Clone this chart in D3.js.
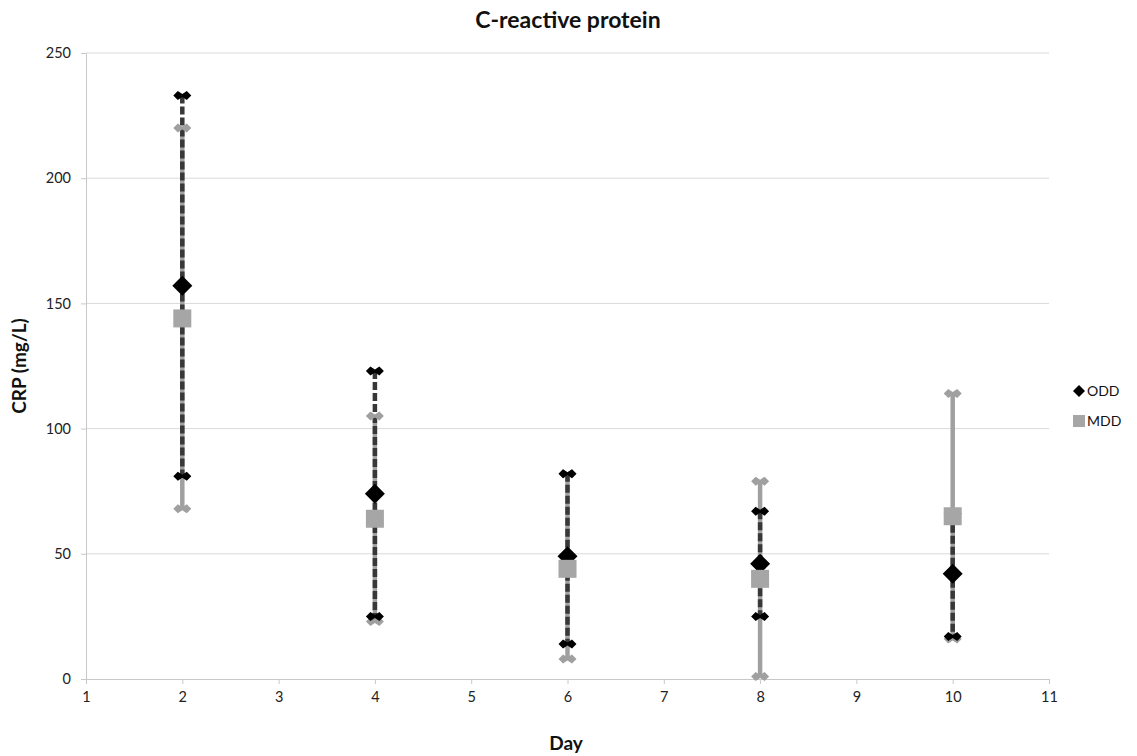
<!DOCTYPE html>
<html><head><meta charset="utf-8">
<script src="https://cdn.jsdelivr.net/npm/d3@7"></script>
<style>body{margin:0;background:#fff}svg{display:block;font-family:Lato,"Open Sans",sans-serif}</style>
</head><body><svg id="c" width="1137" height="756"></svg>
<script>
const days = [2, 4, 6, 8, 10];
const oddMean = [157, 74, 49, 46, 42];
const oddMax = [233, 123, 82, 67, 66];
const oddMin = [81, 25, 14, 25, 17];
const mddMean = [144, 64, 44, 40, 65];
const mddMax = [220, 105, 82, 79, 114];
const mddMin = [68, 23, 8, 1, 16];
const xTicks = [1,2,3,4,5,6,7,8,9,10,11];
const yTicks = [0,50,100,150,200,250];
const seriesNames = ["ODD","MDD"];

const svg = d3.select("#c");
const m = {l:86, r:1049, t:53, b:679};
const x = d3.scaleLinear().domain([1,11]).range([m.l, m.r]);
const y = d3.scaleLinear().domain([0,250]).range([m.b, m.t]);

// gridlines
svg.append("g").selectAll("line").data(yTicks.filter(d=>d>0)).join("line")
  .attr("x1", m.l).attr("x2", m.r).attr("y1", d=>y(d)).attr("y2", d=>y(d))
  .attr("stroke", "#d9d9d9").attr("stroke-width", 1);

// axes
const xa = svg.append("g").attr("transform", `translate(0,${m.b})`)
  .call(d3.axisBottom(x).tickValues(xTicks).tickSize(5).tickPadding(8).tickFormat(d3.format("d")));
const ya = svg.append("g").attr("transform", `translate(${m.l},0)`)
  .call(d3.axisLeft(y).tickValues(yTicks).tickSize(5).tickPadding(10));
[xa, ya].forEach(a => {
  a.select(".domain").attr("stroke", "#c8c8c8");
  a.selectAll(".tick line").attr("stroke", "#c8c8c8");
  a.selectAll("text").attr("fill", "#222").style("font-size", "14.5px").style("font-family", "Lato, sans-serif");
});

// range lines
const mddG = svg.append("g");
mddG.selectAll("line").data(days).join("line")
  .attr("x1", d=>x(d)).attr("x2", d=>x(d))
  .attr("y1", (d,i)=>y(mddMax[i])).attr("y2", (d,i)=>y(mddMin[i]))
  .attr("stroke", "#a0a0a0").attr("stroke-width", 4.5);
const oddG = svg.append("g");
oddG.selectAll("line").data(days).join("line")
  .attr("x1", d=>x(d)).attr("x2", d=>x(d))
  .attr("y1", (d,i)=>y(oddMax[i])).attr("y2", (d,i)=>y(oddMin[i]))
  .attr("stroke", "#383838").attr("stroke-width", 4.5).attr("stroke-dasharray", "8,3");

// end markers (double diamond)
const dbl = "M-9,0 L-4.5,-4.5 L0,-1.5 L4.5,-4.5 L9,0 L4.5,4.5 L0,1.5 L-4.5,4.5 Z";
function ends(vals, color){
  svg.append("g").selectAll("path").data(days).join("path")
    .attr("d", dbl).attr("fill", color)
    .attr("transform", (d,i)=>`translate(${x(d)},${y(vals[i])})`);
}
ends(mddMax, "#a0a0a0"); ends(mddMin, "#a0a0a0");
ends(oddMax, "#000"); ends(oddMin, "#000");

// means
svg.append("g").selectAll("path").data(days).join("path")
  .attr("d", "M0,-10 L10,0 L0,10 L-10,0 Z").attr("fill", "#000")
  .attr("transform", (d,i)=>`translate(${x(d)},${y(oddMean[i])})`);
svg.append("g").selectAll("rect").data(days).join("rect")
  .attr("x", d=>x(d)-9).attr("y", (d,i)=>y(mddMean[i])-9)
  .attr("width", 18).attr("height", 18).attr("fill", "#a6a6a6");

// title and labels
svg.append("text").attr("x", 568).attr("y", 28).attr("text-anchor", "middle")
  .style("font-size", "23px").style("font-weight", "bold").attr("fill", "#111").text("C-reactive protein");
svg.append("text").attr("x", 566).attr("y", 750).attr("text-anchor", "middle")
  .style("font-size", "19px").style("font-weight", "bold").attr("fill", "#111").text("Day");
svg.append("text").attr("transform", "translate(26,366) rotate(-90)").attr("text-anchor", "middle")
  .style("font-size", "19px").style("font-weight", "bold").attr("fill", "#111").text("CRP (mg/L)");

// legend
const lg = svg.append("g");
lg.append("path").attr("d", "M0,-6 L6,0 L0,6 L-6,0 Z").attr("fill", "#000").attr("transform", "translate(1079,391)");
lg.append("rect").attr("x", 1073).attr("y", 415).attr("width", 12).attr("height", 12).attr("fill", "#a6a6a6");
lg.selectAll("text").data(seriesNames).join("text")
  .attr("x", 1087).attr("y", (d,i)=>391 + i*30).attr("dy", "0.35em")
  .style("font-size", "14px").attr("fill", "#111").text(d=>d);
</script></body></html>
